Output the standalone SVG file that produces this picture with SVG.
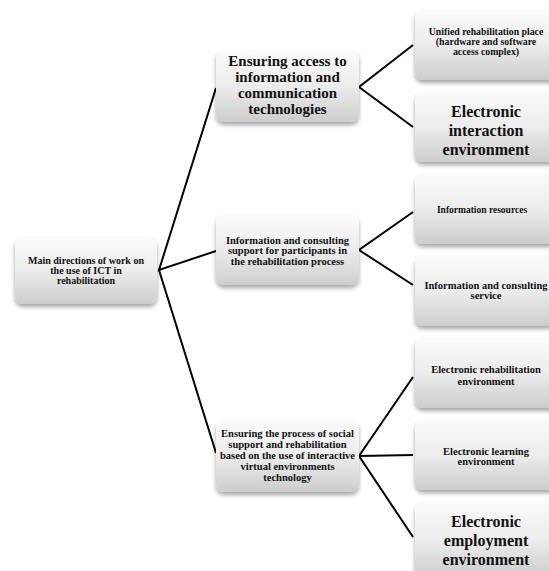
<svg xmlns="http://www.w3.org/2000/svg" width="549" height="571" viewBox="0 0 549 571">
<defs>
<linearGradient id="g" x1="0" y1="0" x2="0" y2="1">
<stop offset="0" stop-color="#fbfbfb"/>
<stop offset="0.5" stop-color="#ececec"/>
<stop offset="1" stop-color="#cdcdcd"/>
</linearGradient>
<filter id="sh" x="-10%" y="-10%" width="120%" height="130%">
<feDropShadow dx="0" dy="3" stdDeviation="2" flood-color="#000" flood-opacity="0.35"/>
</filter>
</defs>
<style>
.box{fill:url(#g);filter:url(#sh)}
text{font-family:"Liberation Serif","Times New Roman",serif;font-weight:bold;fill:#111;text-anchor:middle}
.s{font-size:10.5px}
.u{font-size:9.8px}
.r{font-size:10px}
.m{font-size:15px}
.l{font-size:16px}
.c{stroke:#000;stroke-width:2;fill:none}
</style>
<rect width="549" height="571" fill="#fff"/>
<g id="connectors">
<polyline class="c" points="216,88 159,270 216,251"/>
<line class="c" x1="159" y1="270" x2="216" y2="453"/>
<polyline class="c" points="413,45 359,87 413,127"/>
<polyline class="c" points="413,212 359,250 413,285"/>
<polyline class="c" points="413,377 359,456 413,537"/>
<line class="c" x1="359" y1="456" x2="413" y2="455"/>
</g>
<g id="root">
<rect class="box" x="15" y="237" width="142" height="67" rx="8"/>
<text class="r" x="86" y="263.5">Main directions of work on</text>
<text class="r" x="86" y="273.5">the use of ICT in</text>
<text class="r" x="86" y="283.5">rehabilitation</text>
</g>
<g id="access">
<rect class="box" x="216" y="50" width="143" height="72" rx="8"/>
<text class="m" x="287.5" y="66">Ensuring access to</text>
<text class="m" x="287.5" y="82">information and</text>
<text class="m" x="287.5" y="98">communication</text>
<text class="m" x="287.5" y="114">technologies</text>
</g>
<g id="support">
<rect class="box" x="216" y="215" width="143" height="70" rx="8"/>
<text class="s" x="287.5" y="243.5">Information and consulting</text>
<text class="s" x="287.5" y="254">support for participants in</text>
<text class="s" x="287.5" y="264.5">the rehabilitation process</text>
</g>
<g id="social">
<rect class="box" x="216" y="420" width="143" height="72" rx="8"/>
<text class="s" x="287.5" y="436.5">Ensuring the process of social</text>
<text class="s" x="287.5" y="447.5">support and rehabilitation</text>
<text class="s" x="287.5" y="459">based on the use of interactive</text>
<text class="s" x="287.5" y="470">virtual environments</text>
<text class="s" x="287.5" y="481">technology</text>
</g>
<g id="unified">
<rect class="box" x="415" y="10" width="145" height="70" rx="8"/>
<text class="u" x="486" y="35">Unified rehabilitation place</text>
<text class="u" x="486" y="45">(hardware and software</text>
<text class="u" x="486" y="55">access complex)</text>
</g>
<g id="interaction">
<rect class="box" x="415" y="92" width="145" height="70" rx="8"/>
<text class="l" x="486" y="117">Electronic</text>
<text class="l" x="486" y="136">interaction</text>
<text class="l" x="486" y="155">environment</text>
</g>
<g id="resources">
<rect class="box" x="415" y="174" width="145" height="70" rx="8"/>
<text class="s" x="482" y="213" style="font-size:9.5px">Information resources</text>
</g>
<g id="service">
<rect class="box" x="415" y="256" width="145" height="70" rx="8"/>
<text class="s" x="486" y="288.5">Information and consulting</text>
<text class="s" x="486" y="298.5">service</text>
</g>
<g id="rehab-env">
<rect class="box" x="415" y="338" width="145" height="70" rx="8"/>
<text class="s" x="486" y="372.5">Electronic rehabilitation</text>
<text class="s" x="486" y="385">environment</text>
</g>
<g id="learning">
<rect class="box" x="415" y="420" width="145" height="70" rx="8"/>
<text class="s" x="486" y="455">Electronic learning</text>
<text class="s" x="486" y="465">environment</text>
</g>
<g id="employment">
<rect class="box" x="415" y="502" width="145" height="75" rx="8"/>
<text class="l" x="486" y="527">Electronic</text>
<text class="l" x="486" y="546">employment</text>
<text class="l" x="486" y="565">environment</text>
</g>
</svg>
